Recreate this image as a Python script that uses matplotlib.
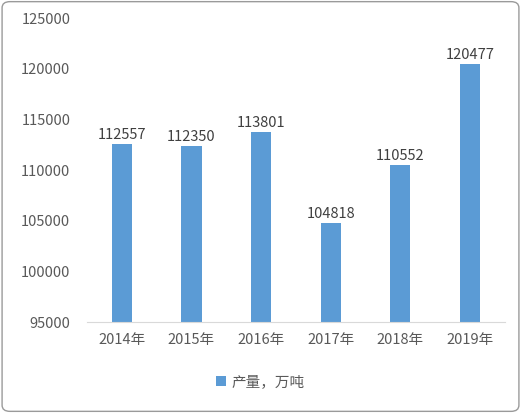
import matplotlib
matplotlib.use("Agg")
import matplotlib.pyplot as plt
from matplotlib.patches import FancyBboxPatch

plt.rcParams['font.family'] = ['Noto Sans CJK SC', 'DejaVu Sans']

years = ["2014年", "2015年", "2016年", "2017年", "2018年", "2019年"]
values = [112557, 112350, 113801, 104818, 110552, 120477]
series_name = "产量，万吨"

fig = plt.figure(figsize=(5.21, 4.13), dpi=100)
fig.patches.append(FancyBboxPatch((0.004, 0.004), 0.992, 0.992, boxstyle="round,pad=0,rounding_size=0.015",
                                  transform=fig.transFigure, fill=False, edgecolor="#9a9a9a", linewidth=1))
ax = fig.add_axes([0.167, 0.220, 0.802, 0.736])
x = range(len(years))
bars = ax.bar(x, values, width=0.29, color="#5B9BD5", label=series_name)
for xi, v in zip(x, values):
    ax.text(xi, v + 200, str(v), ha="center", va="bottom", fontsize=10.5, color="#404040")
ax.set_ylim(95000, 125000)
ax.set_yticks(range(95000, 125001, 5000))
ax.set_xlim(-0.5, 5.5)
ax.set_xticks(list(x))
ax.set_xticklabels(years)
ax.tick_params(axis="both", length=0, labelsize=10.5, colors="#595959")
ax.tick_params(axis="x", pad=8)
ax.tick_params(axis="y", pad=12)
for s in ["top", "right", "left"]:
    ax.spines[s].set_visible(False)
ax.spines["bottom"].set_color("#d9d9d9")
fig.legend(handles=[bars], labels=[series_name], loc="center", bbox_to_anchor=(0.5, 0.075),
           frameon=False, fontsize=10.5, handlelength=0.7, handleheight=0.7, handletextpad=0.4,
           labelcolor="#595959")
fig.savefig("out.png", dpi=100)
